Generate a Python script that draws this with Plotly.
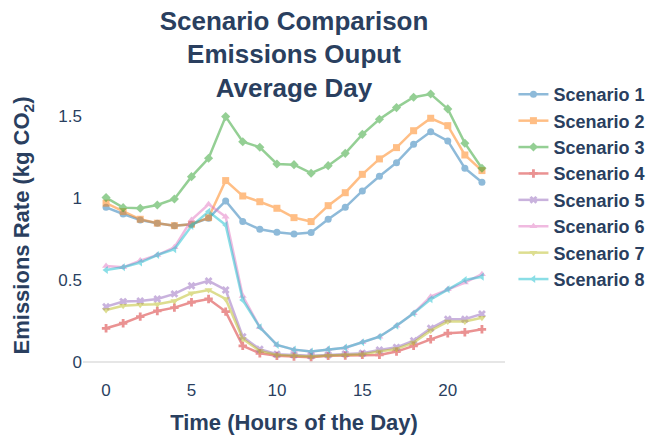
import plotly.graph_objects as go

hours = list(range(23))

scenario_names = ["Scenario 1", "Scenario 2", "Scenario 3", "Scenario 4",
                  "Scenario 5", "Scenario 6", "Scenario 7", "Scenario 8"]

s1 = [0.943, 0.902, 0.866, 0.846, 0.831, 0.840, 0.876, 0.982, 0.856, 0.809, 0.791, 0.780,
      0.789, 0.870, 0.943, 1.043, 1.132, 1.215, 1.327, 1.404, 1.348, 1.181, 1.096]
s2 = [0.968, 0.917, 0.870, 0.846, 0.831, 0.840, 0.880, 1.106, 1.012, 0.977, 0.937, 0.880,
      0.856, 0.953, 1.032, 1.144, 1.238, 1.307, 1.410, 1.486, 1.441, 1.262, 1.167]
s3 = [1.002, 0.941, 0.937, 0.957, 0.994, 1.130, 1.242, 1.496, 1.343, 1.309, 1.207, 1.203,
      1.151, 1.197, 1.272, 1.388, 1.480, 1.551, 1.614, 1.634, 1.543, 1.334, 1.181]
s4 = [0.205, 0.236, 0.276, 0.311, 0.331, 0.364, 0.384, 0.307, 0.098, 0.053, 0.037, 0.033,
      0.029, 0.037, 0.039, 0.043, 0.043, 0.063, 0.098, 0.138, 0.175, 0.181, 0.199]
s5 = [0.337, 0.368, 0.372, 0.384, 0.415, 0.465, 0.494, 0.439, 0.154, 0.077, 0.047, 0.043,
      0.037, 0.043, 0.049, 0.053, 0.073, 0.089, 0.130, 0.205, 0.260, 0.260, 0.293]
s6 = [0.585, 0.577, 0.618, 0.652, 0.699, 0.866, 0.961, 0.886, 0.402, 0.211, 0.104, 0.075,
      0.063, 0.077, 0.087, 0.120, 0.154, 0.221, 0.297, 0.398, 0.443, 0.484, 0.535]
s7 = [0.317, 0.343, 0.348, 0.352, 0.372, 0.419, 0.439, 0.384, 0.140, 0.067, 0.043, 0.039,
      0.033, 0.039, 0.043, 0.047, 0.063, 0.079, 0.118, 0.191, 0.246, 0.246, 0.270]
s8 = [0.561, 0.577, 0.606, 0.652, 0.687, 0.829, 0.917, 0.835, 0.378, 0.211, 0.104, 0.075,
      0.063, 0.077, 0.087, 0.120, 0.154, 0.221, 0.297, 0.382, 0.443, 0.500, 0.520]

series = [s1, s2, s3, s4, s5, s6, s7, s8]
colors = ["#1f77b4", "#ff7f0e", "#2ca02c", "#d62728",
          "#9467bd", "#e377c2", "#bcbd22", "#17becf"]
symbols = [0, 1, 2, 3, 4, 5, 6, 7]

fig = go.Figure()
for name, vals, col, sym in zip(scenario_names, series, colors, symbols):
    fig.add_trace(go.Scatter(
        x=hours, y=vals, name="<b>" + name + "</b>", mode="lines+markers",
        line=dict(color=col, width=2.5),
        marker=dict(color=col, symbol=sym, size=7),
        opacity=0.5,
    ))

font_family = "Liberation Sans, Arial, sans-serif"
dark = "#2a3f5f"

fig.update_layout(
    template="plotly_white",
    width=647, height=436,
    margin=dict(l=83, r=142, t=73, b=58, autoexpand=False),
    font=dict(family=font_family, color=dark),
    title=dict(
        text="<b>Scenario Comparison<br>Emissions Ouput<br>Average Day</b>",
        x=0.5, xref="paper", xanchor="center",
        y=0.932, yref="container", yanchor="top",
        font=dict(size=26, color=dark, family=font_family),
    ),
    legend=dict(font=dict(size=18, color=dark, family=font_family),
                x=1.02, y=0.99, yanchor="top"),
    xaxis=dict(
        title=dict(text="<b>Time (Hours of the Day)</b>", font=dict(size=22)),
        range=[-1.35, 23.35], tickvals=[0, 5, 10, 15, 20],
        showgrid=False, zeroline=False, tickfont=dict(size=17), automargin=False,
    ),
    yaxis=dict(
        title=dict(text="<b>Emissions Rate (kg CO<sub>2</sub>)</b>", font=dict(size=22),
                   standoff=22),
        range=[-0.098, 1.762], tickvals=[0, 0.5, 1, 1.5], ticktext=["0", "0.5", "1", "1.5"],
        showgrid=False, zeroline=True, zerolinecolor="#e6e6e6", zerolinewidth=1.5,
        tickfont=dict(size=17), automargin=False,
    ),
)

fig.write_html("out.html", config={"displayModeBar": False},
               post_script="document.body.style.margin='0';document.body.style.padding='0';")
